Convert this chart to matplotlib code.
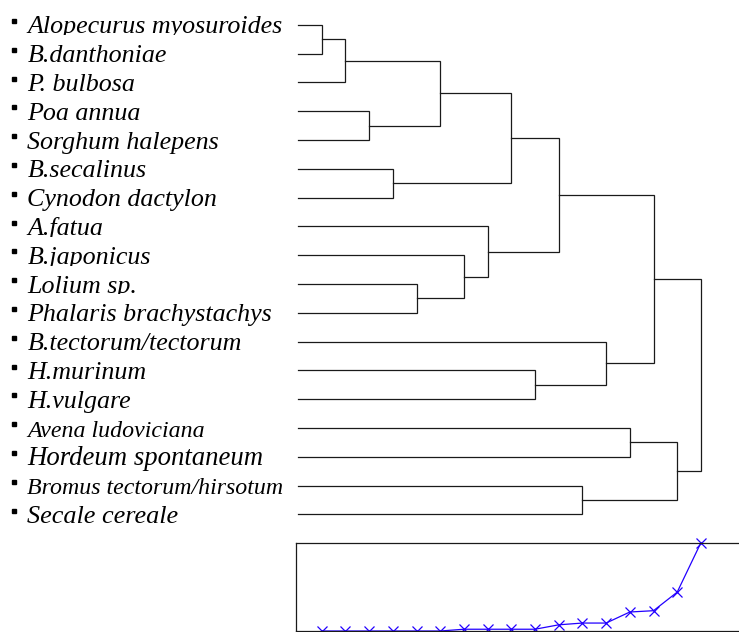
import numpy as np
import matplotlib.pyplot as plt
from matplotlib.patches import Rectangle
from matplotlib.transforms import blended_transform_factory

species = ["Alopecurus myosuroides", "B.danthoniae", "P. bulbosa", "Poa annua",
           "Sorghum halepens", "B.secalinus", "Cynodon dactylon", "A.fatua",
           "B.japonicus", "Lolium sp.", "Phalaris brachystachys",
           "B.tectorum/tectorum", "H.murinum", "H.vulgare", "Avena ludoviciana",
           "Hordeum spontaneum", "Bromus tectorum/hirsotum", "Secale cereale"]

# merge steps in order; ids < 18 are leaves, 18 + k is the cluster built at step k
merges = [(0, 1), (18, 2), (3, 4), (5, 6), (9, 10), (19, 20), (8, 22), (7, 24),
          (23, 21), (12, 13), (26, 25), (16, 17), (11, 27), (14, 15), (28, 30),
          (31, 29), (32, 33)]

# fusion level at each step (relative)
fusion = [0, 0, 0, 0, 0, 0, 0.02, 0.02, 0.02, 0.02, 0.07, 0.09, 0.09,
          0.215, 0.23, 0.44, 1.0]

# label font sizes and which labels come out cut at the baseline
label_size = [18.7] * 14 + [17.2, 19.3, 17.2, 18.9]
cut_labels = [0, 7, 8, 9]

W, H = 739, 632
x0pix, step = 298, 23.7
leaf0, gap = 24.7, 28.8

fig = plt.figure(figsize=(W / 100, H / 100), dpi=100)
ax = fig.add_axes([0, 0, 1, 1])
ax.set_xlim(-x0pix / step, (W - x0pix) / step)
ax.set_ylim(1 + (H - leaf0) / gap, 1 - leaf0 / gap)
ax.axis("off")

n = len(species)
ypos = {i: i + 1.0 for i in range(n)}
hpos = {i: 0.0 for i in range(n)}
for k, (a, b) in enumerate(merges):
    h = k + 1
    ax.plot([hpos[a], h, h, hpos[b]], [ypos[a], ypos[a], ypos[b], ypos[b]],
            color="#1a1a1a", lw=0.9, solid_joinstyle="miter")
    ypos[n + k] = (ypos[a] + ypos[b]) / 2
    hpos[n + k] = h

trans = blended_transform_factory(fig.transFigure, ax.transData)
leaves = np.arange(1, n + 1)
ax.plot(np.full(n, 13.7 / W), leaves - 3.8 / gap, "s", color="black",
        markersize=2.6, transform=trans, clip_on=False)

for i, name in enumerate(species):
    ax.text(27.5 / W, leaves[i] + 8.6 / gap, name, transform=trans,
            fontsize=label_size[i], style="italic", va="baseline", ha="left",
            family=["Liberation Serif", "DejaVu Serif"])
    if i in cut_labels:
        # the original cuts these labels off just under the baseline
        ax.add_patch(Rectangle((20 / W, leaves[i] + 10.4 / gap), 280 / W, 7 / gap,
                               transform=trans, facecolor="white", edgecolor="none",
                               zorder=5))

# fusion level plot underneath
right = 900
ax2 = fig.add_axes([296 / W, 1 / H, (right - 296) / W, (631 - 542.7) / H])
ax2.set_xlim((296 - x0pix) / step, (right - x0pix) / step)
ax2.set_ylim(0, max(fusion))
ax2.plot(np.arange(1, len(fusion) + 1), fusion, "-x", color="#2200ff",
         lw=0.9, markersize=6.5, mew=0.9, clip_on=False)
ax2.set_xticks([])
ax2.set_yticks([])
for s in ax2.spines.values():
    s.set_linewidth(0.9)
    s.set_color("#1a1a1a")

fig.savefig("out.png", dpi=100)
